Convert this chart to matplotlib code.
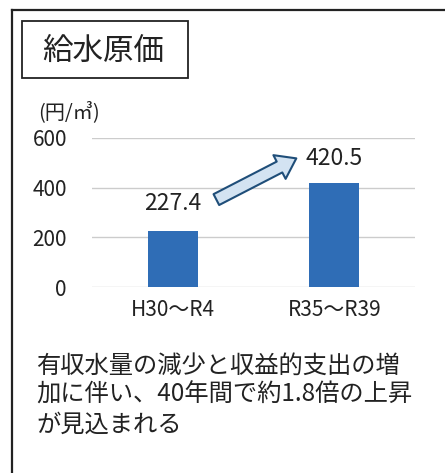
import matplotlib
matplotlib.use("Agg")
import matplotlib.pyplot as plt
from matplotlib.lines import Line2D
from matplotlib.patches import Rectangle

plt.rcParams['font.family'] = ['Noto Sans CJK JP', 'DejaVu Sans']

categories = ["H30～R4", "R35～R39"]
values = [227.4, 420.5]
value_labels = ["227.4", "420.5"]
yticks = [0, 200, 400, 600]
title = "給水原価"
unit = "(円/㎥)"
note = "有収水量の減少と収益的支出の増\n加に伴い、40年間で約1.8倍の上昇\nが見込まれる"

W, H = 445, 473
fig = plt.figure(figsize=(W / 100, H / 100), dpi=100)

def fx(px):
    return px / W

def fy(py):
    return 1 - py / H

# outer border (left + top)
fig.add_artist(Line2D([fx(12), fx(12)], [fy(10), fy(480)], color='#222222', lw=1.6))
fig.add_artist(Line2D([fx(12), fx(450)], [fy(10), fy(10)], color='#222222', lw=1.6))
# title box
fig.add_artist(Rectangle((fx(22), fy(78)), fx(188) - fx(22), fy(21) - fy(78),
                         fill=False, ec='#222222', lw=1.3))
fig.text(fx(103), fy(51), title, fontsize=22, ha='center', va='center', color='#222222')
fig.text(fx(38), fy(112), unit, fontsize=14.5, ha='left', va='center', color='#222222')

ax = fig.add_axes([fx(92), fy(287), fx(415) - fx(92), fy(138) - fy(287)])
x = list(range(len(categories)))
ax.bar(x, values, width=0.31, color='#2f6db6', zorder=2)
ax.set_xlim(-0.5, 1.5)
ax.set_ylim(0, 600)
ax.set_yticks(yticks)
ax.set_xticks(x)
ax.set_xticklabels(categories)
for s in ax.spines.values():
    s.set_visible(False)
ax.grid(axis='y', color='#cccccc', lw=1.0, zorder=0)
ax.tick_params(axis='both', length=0, labelsize=15, colors='#222222')
ax.tick_params(axis='y', pad=18)
ax.tick_params(axis='x', pad=9)

ax.text(x[0], 336, value_labels[0], fontsize=16.5, ha='center', va='center', color='#222222')
ax.text(x[1], 518, value_labels[1], fontsize=16.5, ha='center', va='center', color='#222222')

ax.annotate("", xy=(0.765, 518), xytext=(0.27, 352),
            arrowprops=dict(arrowstyle="simple,head_width=1.2,head_length=0.85,tail_width=0.55",
                            fc='#d3e3f2', ec='#1f4e79', lw=1.5, mutation_scale=16,
                            shrinkA=0, shrinkB=0))

fig.text(fx(36), fy(395), note, fontsize=17.5, ha='left', va='center',
         color='#222222', linespacing=1.18)

fig.savefig("out.png", dpi=100)
